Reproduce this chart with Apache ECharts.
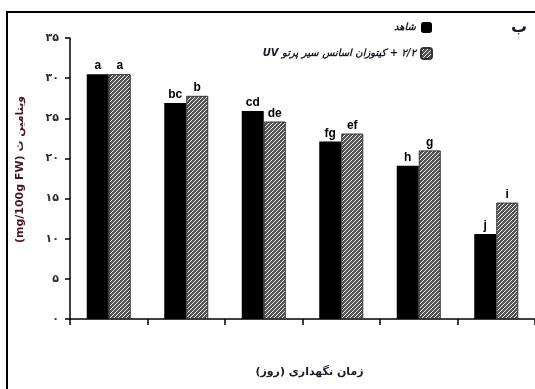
<!DOCTYPE html>
<html>
<head>
<meta charset="utf-8">
<script src="https://cdn.jsdelivr.net/npm/echarts@6/dist/echarts.min.js"></script>
<style>
  html, body { margin: 0; padding: 0; background: #fff; }
  #chart { width: 535px; height: 389px; }
</style>
</head>
<body>
<div id="chart" dir="rtl"></div>
<script>
// Storage days (category labels are not printed on the axis)
const categories = ['0', '7', '14', '21', '28', '35'];
const controlValues = [30.5, 26.9, 25.9, 22.1, 19.1, 10.6];
const treatedValues = [30.5, 27.8, 24.6, 23.1, 21.0, 14.5];
const controlLetters = ['a', 'bc', 'cd', 'fg', 'h', 'j'];
const treatedLetters = ['a', 'b', 'de', 'ef', 'g', 'i'];
const yTickLabels = ['۰', '۵', '۱۰', '۱۵', '۲۰', '۲۵', '۳۰', '۳۵'];
const seriesNames = ['شاهد', '۲/۲ + کیتوزان اسانس سیر پرتو UV'];

// diagonal hatch fill
function makeHatch() {
  const c = document.createElement('canvas');
  c.width = 4; c.height = 4;
  const g = c.getContext('2d');
  g.fillStyle = '#555';
  g.fillRect(0, 0, 4, 4);
  g.strokeStyle = '#ececec';
  g.lineWidth = 1;
  g.beginPath();
  g.moveTo(0, 4); g.lineTo(4, 0);
  g.moveTo(-1, 1); g.lineTo(1, -1);
  g.moveTo(3, 5); g.lineTo(5, 3);
  g.stroke();
  return c;
}
const hatch = { image: makeHatch(), repeat: 'repeat' };

const chart = echarts.init(document.getElementById('chart'), null, { renderer: 'canvas' });

const labelStyle = {
  show: true,
  position: 'top',
  distance: 2,
  color: '#000',
  fontFamily: 'Liberation Sans, Arial, sans-serif',
  fontWeight: 'bold',
  fontSize: 12
};

chart.setOption({
  animation: false,
  backgroundColor: '#fff',
  grid: { left: 70, right: 0, top: 38, bottom: 70, containLabel: false },
  legend: {
    orient: 'vertical',
    right: 97,
    top: 17,
    align: 'right',
    itemWidth: 11,
    itemHeight: 11,
    itemGap: 14,
    data: seriesNames,
    textStyle: {
      fontFamily: 'DejaVu Sans, sans-serif',
      fontSize: 10,
      fontStyle: 'italic',
      fontWeight: 'bold',
      color: '#1a1a2a'
    }
  },
  xAxis: {
    type: 'category',
    data: categories,
    boundaryGap: true,
    name: 'زمان نگهداری (روز)',
    nameLocation: 'middle',
    nameGap: 48,
    nameTextStyle: {
      fontFamily: 'DejaVu Sans, sans-serif',
      fontSize: 11,
      fontWeight: 'bold',
      color: '#1a1a2a',
      padding: [0, 0, 0, 14]
    },
    axisLine: { lineStyle: { color: '#000', width: 1.5 } },
    axisTick: { show: true, length: 6, inside: false, lineStyle: { color: '#000', width: 1.5 } },
    axisLabel: { show: false }
  },
  yAxis: {
    type: 'value',
    min: 0,
    max: 35,
    interval: 5,
    name: 'ویتامین ث (mg/100g FW)',
    nameLocation: 'middle',
    nameGap: 44,
    nameRotate: 90,
    nameTextStyle: {
      fontFamily: 'DejaVu Sans, sans-serif',
      fontSize: 11,
      fontWeight: 'bold',
      color: '#4a1428',
      padding: [0, 0, 0, 18]
    },
    splitLine: { show: false },
    axisLine: { show: true, lineStyle: { color: '#000', width: 1.5 } },
    axisTick: { show: true, length: 5, lineStyle: { color: '#000', width: 1.5 } },
    axisLabel: {
      margin: 11,
      fontFamily: 'DejaVu Sans, sans-serif',
      fontSize: 11,
      fontWeight: 'bold',
      color: '#2a2a3a',
      formatter: (v) => yTickLabels[Math.round(v / 5)]
    }
  },
  series: [
    {
      name: seriesNames[0],
      type: 'bar',
      barWidth: 22,
      barGap: '0%',
      data: controlValues,
      itemStyle: { color: '#000' },
      label: Object.assign({}, labelStyle, {
        formatter: (p) => controlLetters[p.dataIndex]
      })
    },
    {
      name: seriesNames[1],
      type: 'bar',
      barWidth: 22,
      data: treatedValues,
      itemStyle: { color: hatch, borderColor: '#333', borderWidth: 1 },
      label: Object.assign({}, labelStyle, {
        formatter: (p) => treatedLetters[p.dataIndex]
      })
    }
  ],
  graphic: [
    {
      type: 'rect',
      shape: { x: 7, y: 12, width: 560, height: 420 },
      style: { fill: 'none', stroke: '#000', lineWidth: 2 },
      silent: true
    },
    {
      type: 'text',
      right: 8,
      top: 20,
      style: {
        text: 'ب',
        font: 'bold 16px DejaVu Sans, sans-serif',
        fill: '#1a1a2a'
      }
    }
  ]
});
</script>
</body>
</html>
